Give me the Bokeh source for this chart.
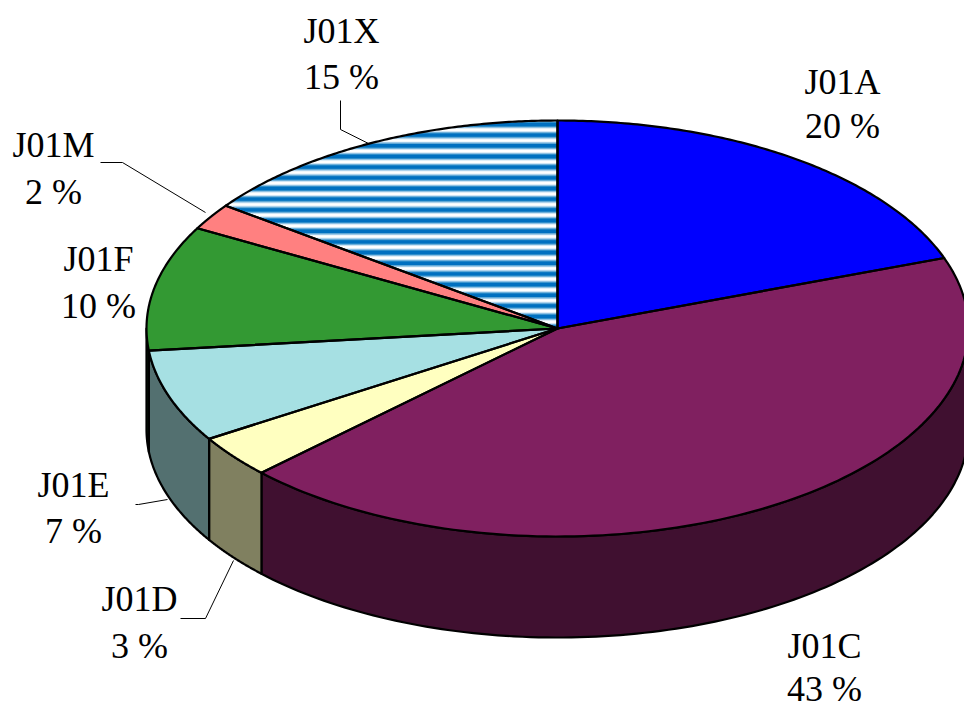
import numpy as np
from bokeh.plotting import figure
from bokeh.models import Range1d
from bokeh.core.properties import value
from bokeh.embed import file_html
from bokeh.resources import INLINE

categories = ["J01A", "J01C", "J01D", "J01E", "J01F", "J01M", "J01X"]
shown_percent = [20, 43, 3, 7, 10, 2, 15]
shares = [19.5, 43.3, 3.3, 7.2, 9.7, 2.05, 14.95]
top_colors = ["#0000FF", "#802060", "#FFFFC0", "#A6E0E3", "#339933", "#FF8080", "#FFFFFF"]
side_colors = ["#000080", "#401030", "#808060", "#537070", "#1A4D1A", "#804040", "#003860"]
label_x = [842, 824, 139, 73, 98, 53, 341]
name_y = [81, 645, 598, 484, 258, 144, 30]
pct_y = [125, 688, 645, 530, 305, 191, 76]

CX, CY, RX, RY, DEPTH = 557.0, 328.0, 411.0, 208.0, 101.0

W, H = 964, 702
p = figure(width=W, height=H, x_range=Range1d(0, W), y_range=Range1d(H, 0),
           toolbar_location=None, output_backend="svg", min_border=0,
           outline_line_color=None, margin=(0, 0, 0, 0))
p.xaxis.visible = False
p.yaxis.visible = False
p.grid.visible = False


def rim(a0, a1, n=120):
    t = np.radians(np.linspace(a0, a1, n))
    return CX + RX * np.sin(t), CY - RY * np.cos(t)


edges = np.cumsum([0] + shares) * 3.6

# side walls, visible on the front half of the disc only
for i in range(len(shares)):
    a0, a1 = max(edges[i], 90.0), min(edges[i + 1], 270.0)
    if a1 <= a0:
        continue
    x, y = rim(a0, a1)
    xs = np.concatenate([x, x[::-1]])
    ys = np.concatenate([y, (y + DEPTH)[::-1]])
    p.patch(xs, ys, fill_color=side_colors[i], line_color="black", line_width=2.2, line_join="round")

# top faces
for i in range(len(shares)):
    x, y = rim(edges[i], edges[i + 1])
    xs = np.concatenate([[CX], x])
    ys = np.concatenate([[CY], y])
    p.patch(xs, ys, fill_color=top_colors[i], line_color=None)

# striped fill of the last slice
a_tip = np.radians(edges[-2])
tip_x, tip_y = CX + RX * np.sin(a_tip), CY - RY * np.cos(a_tip)


def left_bound(yy):
    u = np.clip((CY - yy) / RY, -1, 1)
    ell = CX - RX * np.sqrt(1 - u ** 2)
    rad = CX - (CY - yy) * (CX - tip_x) / (CY - tip_y)
    return np.maximum(ell, rad)


def band(y0, y1):
    y0, y1 = max(y0, CY - RY), min(y1, CY)
    if y1 <= y0:
        return
    yy = np.linspace(y0, y1, 12)
    return np.concatenate([[CX, CX], left_bound(yy)[::-1]]), np.concatenate([[y0, y1], yy[::-1]])


PERIOD = 10.67
for half, col in [(4.0, "#BFDDF0"), (3.2, "#80B8DF"), (2.4, "#409ACF"), (1.7, "#0070C0")]:
    for k in range(-7, 14):
        b = band(188 + k * PERIOD - half, 188 + k * PERIOD + half)
        if b is not None:
            p.patch(b[0], b[1], fill_color=col, line_color=None)

# outlines of the top faces
for i in range(len(shares)):
    x, y = rim(edges[i], edges[i + 1])
    xs = np.concatenate([[CX], x])
    ys = np.concatenate([[CY], y])
    p.patch(xs, ys, fill_color=None, line_color="black", line_width=2.2, line_join="round")

# leader lines
leaders = [
    ([340, 340, 368], [100, 129, 143]),
    ([100, 122, 205], [162, 162, 212]),
    ([135, 138, 167], [504, 504, 499]),
    ([180, 205, 233], [618, 618, 560]),
]
for lx, ly in leaders:
    p.line(lx, ly, line_color="black", line_width=1)

# labels
pct_texts = [f"{s} %" for s in shown_percent]
for ys, txt in [(name_y, categories), (pct_y, pct_texts)]:
    p.text(label_x, ys, text=txt, text_font=value("Liberation Serif"), text_font_size="36px",
           text_color="black", text_align="center", text_baseline="middle")

open("out.html", "w").write(file_html(p, INLINE))
